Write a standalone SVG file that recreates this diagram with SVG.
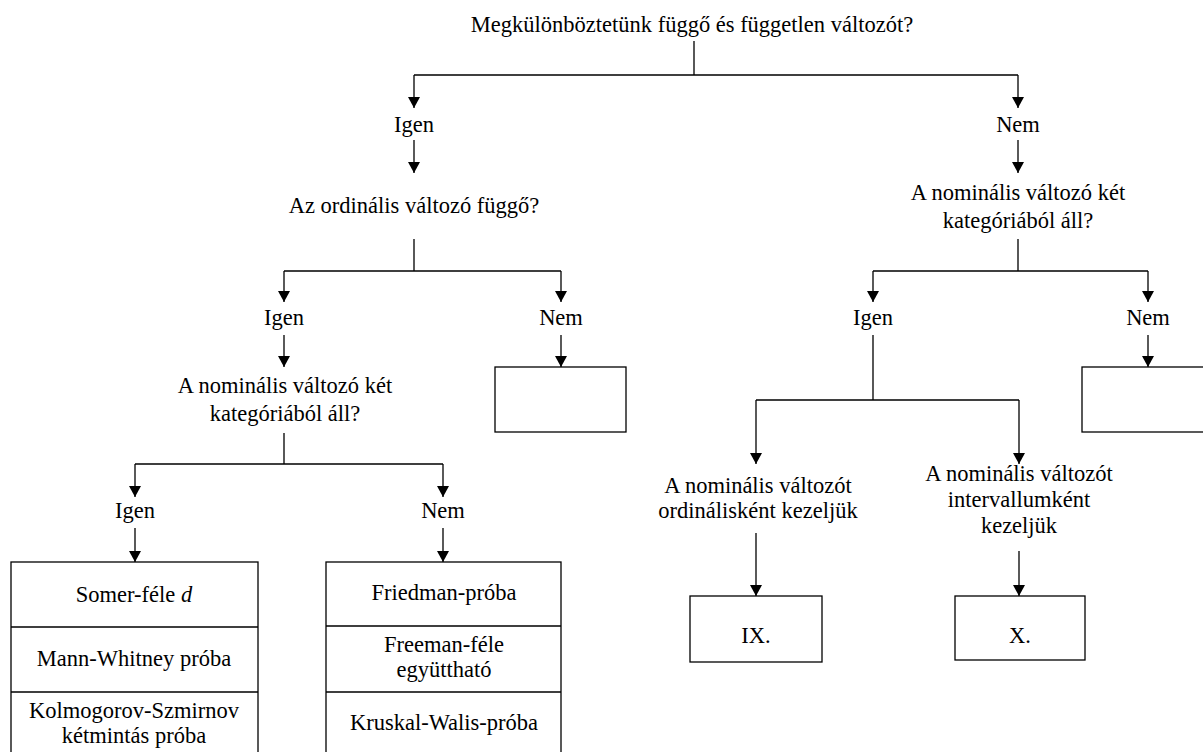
<svg xmlns="http://www.w3.org/2000/svg" width="1203" height="752" viewBox="0 0 1203 752">
  <defs>
    <marker id="arrow" viewBox="0 0 11 12" refX="11" refY="6" markerWidth="11" markerHeight="12" markerUnits="userSpaceOnUse" orient="auto">
      <path d="M0,0 L11,6 L0,12 Z" fill="#000"/>
    </marker>
    <style>
      text { font-family: "Liberation Serif", "Times New Roman", serif; font-size: 22.5px; fill: #000; text-anchor: middle; }
      .box { fill: #fff; stroke: #000; stroke-width: 1.3; }
      .edge { fill: none; stroke: #000; stroke-width: 1.3; }
      .arr { marker-end: url(#arrow); }
    </style>
  </defs>
  <rect width="1203" height="752" fill="#fff"/>

  <!-- connectors -->
  <g id="connectors">
    <!-- root split -->
    <path class="edge" d="M694,41 V75 M414,75 H1018"/>
    <path class="edge arr" d="M414,75 V108"/>
    <path class="edge arr" d="M1018,75 V108"/>
    <path class="edge arr" d="M414,140 V173"/>
    <path class="edge arr" d="M1018,140 V173"/>
    <!-- left: ordinal dependent? -->
    <path class="edge" d="M414,239 V271 M284,271 H561"/>
    <path class="edge arr" d="M284,271 V302"/>
    <path class="edge arr" d="M561,271 V302"/>
    <path class="edge arr" d="M284,335 V367"/>
    <path class="edge arr" d="M561,335 V367"/>
    <!-- right: two categories? -->
    <path class="edge" d="M1018,239 V271 M873,271 H1148"/>
    <path class="edge arr" d="M873,271 V302"/>
    <path class="edge arr" d="M1148,271 V302"/>
    <path class="edge arr" d="M1148,335 V367"/>
    <path class="edge" d="M873,335 V400 M756,400 H1019"/>
    <path class="edge arr" d="M756,400 V464"/>
    <path class="edge arr" d="M1019,400 V464"/>
    <path class="edge arr" d="M756,533 V596"/>
    <path class="edge arr" d="M1019,551 V596"/>
    <!-- left lower split -->
    <path class="edge" d="M284,433 V464 M135,464 H443"/>
    <path class="edge arr" d="M135,464 V497"/>
    <path class="edge arr" d="M443,464 V497"/>
    <path class="edge arr" d="M135,528 V562"/>
    <path class="edge arr" d="M443,528 V562"/>
  </g>

  <g id="root">
    <text x="692" y="32">Megkülönböztetünk függő és független változót?</text>
  </g>
  <g id="yes-1"><text x="414" y="132">Igen</text></g>
  <g id="no-1"><text x="1018" y="132">Nem</text></g>

  <g id="ordinal-dependent">
    <text x="414" y="213">Az ordinális változó függő?</text>
  </g>
  <g id="nominal-two-right">
    <text x="1018" y="200">A nominális változó két</text>
    <text x="1018" y="228">kategóriából áll?</text>
  </g>

  <g id="yes-2"><text x="284" y="325">Igen</text></g>
  <g id="no-2"><text x="561" y="325">Nem</text></g>
  <g id="yes-3"><text x="873" y="325">Igen</text></g>
  <g id="no-3"><text x="1148" y="325">Nem</text></g>

  <g id="empty-box-left"><rect class="box" x="495" y="367" width="131" height="65"/></g>
  <g id="empty-box-right"><rect class="box" x="1082" y="367" width="140" height="65"/></g>

  <g id="nominal-two-left">
    <text x="285" y="393">A nominális változó két</text>
    <text x="285" y="421">kategóriából áll?</text>
  </g>

  <g id="as-ordinal">
    <text x="758" y="493">A nominális változót</text>
    <text x="758" y="518">ordinálisként kezeljük</text>
  </g>
  <g id="as-interval">
    <text x="1019" y="481">A nominális változót</text>
    <text x="1019" y="507">intervallumként</text>
    <text x="1019" y="533">kezeljük</text>
  </g>

  <g id="box-ix">
    <rect class="box" x="690" y="596" width="132" height="66"/>
    <text x="756" y="643">IX.</text>
  </g>
  <g id="box-x">
    <rect class="box" x="955" y="596" width="130" height="64"/>
    <text x="1020" y="643">X.</text>
  </g>

  <g id="yes-4"><text x="135" y="518">Igen</text></g>
  <g id="no-4"><text x="443" y="518">Nem</text></g>

  <g id="tests-two-categories">
    <rect class="box" x="11" y="562" width="247" height="200"/>
    <path class="edge" d="M11,627 H258 M11,692 H258"/>
    <text x="134" y="602">Somer-féle <tspan font-style="italic">d</tspan></text>
    <text x="134" y="666">Mann-Whitney próba</text>
    <text x="134" y="718">Kolmogorov-Szmirnov</text>
    <text x="134" y="743">kétmintás próba</text>
  </g>

  <g id="tests-more-categories">
    <rect class="box" x="326" y="562" width="235" height="200"/>
    <path class="edge" d="M326,626 H561 M326,692 H561"/>
    <text x="444" y="600">Friedman-próba</text>
    <text x="444" y="652">Freeman-féle</text>
    <text x="444" y="677">együttható</text>
    <text x="444" y="730">Kruskal-Walis-próba</text>
  </g>
</svg>
